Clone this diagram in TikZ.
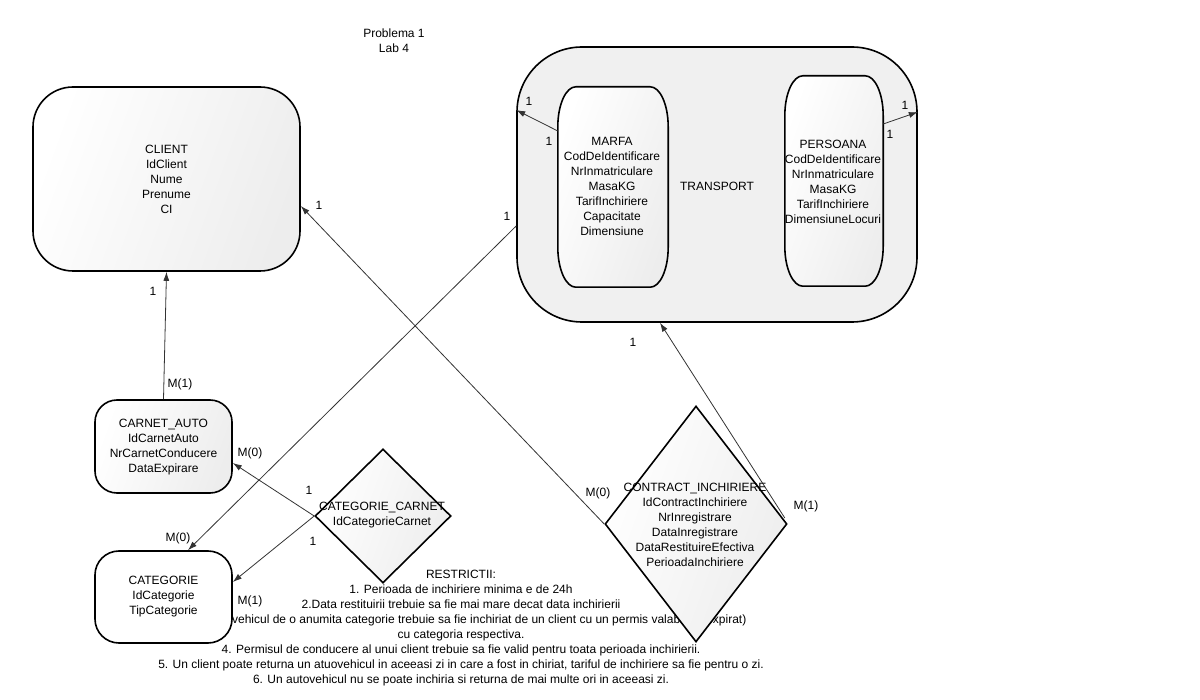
\documentclass[tikz,border=0pt]{standalone}
\usepackage{fontspec}
\setmainfont{Liberation Sans}
\usetikzlibrary{arrows.meta,shapes.geometric,calc}
\begin{document}
\begin{tikzpicture}[x=1pt,y=-1pt,
  font=\fontsize{12}{15}\selectfont,
  box/.style={draw=black,line width=1.6pt,rectangle,inner sep=0pt},
  gfill/.style={left color=white,right color=black!7,shading angle=70},
  flat/.style={fill=black!6},
  txt/.style={align=center,inner sep=0pt},
  lab/.style={inner sep=0pt},
  conn/.style={draw=black!80,line width=0.8pt,-{Latex[length=9pt,width=6pt]}}
]
\useasboundingbox (0,0) rectangle (1200,700);
\fill[white] (0,0) rectangle (1200,700);

% title
\node[txt] (title) at (394,40.5) {Problema 1\\Lab 4};

% restrictions (drawn first so shapes cover parts of it)
\node[txt] (restr) at (461,628.5) {RESTRICTII:\hspace{16pt}\\
1. Perioada de inchiriere minima e de 24h\\
2.Data restituirii trebuie sa fie mai mare decat data inchirierii\\
3. Un autovehicul de o anumita categorie trebuie sa fie inchiriat de un client cu un permis valabil (neexpirat)\\
cu categoria respectiva.\\
4. Permisul de conducere al unui client trebuie sa fie valid pentru toata perioada inchirierii.\\
5. Un client poate returna un atuovehicul in aceeasi zi in care a fost in chiriat, tariful de inchiriere sa fie pentru o zi.\\
6. Un autovehicul nu se poate inchiria si returna de mai multe ori in aceeasi zi.};

% shapes
\node[box,gfill,rounded corners=40pt,minimum width=267pt,minimum height=184pt] (client) at (166.5,179) {};
\node[box,flat,rounded corners=65pt,minimum width=400pt,minimum height=275pt] (transport) at (717,184.5) {};
\node[inner sep=0pt,minimum width=110pt,minimum height=200pt] (marfa) at (613,187) {};
\node[inner sep=0pt,minimum width=98pt,minimum height=210pt] (persoana) at (834,181) {};
\foreach \n in {marfa,persoana}{
  \path[draw=black,line width=1.6pt,gfill]
    ($(\n.north west)+(18,0)$) -- ($(\n.north east)+(-18,0)$)
    arc[start angle=-90,end angle=0,x radius=18,y radius=40]
    -- ($(\n.south east)+(0,-40)$)
    arc[start angle=0,end angle=90,x radius=18,y radius=40]
    -- ($(\n.south west)+(18,0)$)
    arc[start angle=90,end angle=180,x radius=18,y radius=40]
    -- ($(\n.north west)+(0,40)$)
    arc[start angle=180,end angle=270,x radius=18,y radius=40] -- cycle;
}
\node[box,gfill,rounded corners=22pt,minimum width=137pt,minimum height=93pt] (carnet) at (163.5,446.5) {};
\node[box,fill=white,rounded corners=24pt,minimum width=137pt,minimum height=92pt] (cat) at (163.5,597) {};
\node[diamond,draw=black,line width=1.6pt,gfill,inner sep=0pt,minimum width=136pt,minimum height=134pt] (ccarnet) at (383,516) {};
\node[diamond,draw=black,line width=1.6pt,gfill,inner sep=0pt,minimum width=182pt,minimum height=236pt] (contract) at (696,524) {};

% connectors
\draw[conn] (carnet.north) -- (client.south);
\draw[conn] (contract.west) -- ($(client.east)+(0,27)$);
\draw[conn] ($(transport.west)+(0,41.5)$) -- ($(cat.north)+(24.5,0)$);
\draw[conn] ($(contract.east)+(-3,-6)$) -- ($(transport.south)+(-57,0)$);
\draw[conn] (ccarnet.west) -- ($(carnet.east)+(0,16.5)$);
\draw[conn] (ccarnet.west) -- ($(cat.east)+(0,-15)$);
\draw[conn] ($(marfa.west)+(0,-56)$) -- ($(transport.west)+(0,-74.5)$);
\draw[conn] ($(persoana.east)+(0,-57)$) -- ($(transport.east)+(0,-72.5)$);

% texts of shapes
\node[txt] (clienttxt) at (166.5,179) {CLIENT\\IdClient\\Nume\\Prenume\\CI};
\node[txt] (transporttxt) at (717,186) {TRANSPORT};
\node[txt] (marfatxt) at (612,186) {MARFA\\CodDeIdentificare\\NrInmatriculare\\MasaKG\\TarifInchiriere\\Capacitate\\Dimensiune};
\node[txt] (persoanatxt) at (833,181.5) {PERSOANA\\CodDeIdentificare\\NrInmatriculare\\MasaKG\\TarifInchiriere\\DimensiuneLocuri};
\node[txt] (carnettxt) at (163.5,447) {CARNET\_AUTO\\IdCarnetAuto\\NrCarnetConducere\\DataExpirare};
\node[txt] (cattxt) at (163.5,597) {CATEGORIE\\IdCategorie\\TipCategorie};
\node[txt] (ccarnettxt) at (382,515.5) {CATEGORIE\_CARNET\\IdCategorieCarnet};
\node[txt] (contracttxt) at (695,524.5) {CONTRACT\_INCHIRIERE\\IdContractInchiriere\\NrInregistrare\\DataInregistrare\\DataRestituireEfectiva\\PerioadaInchiriere};

% cardinality labels
\node[lab] (l1) at (153,291) {1};
\node[lab] (l2) at (180,384) {M(1)};
\node[lab] (l3) at (319,205) {1};
\node[lab] (l4) at (598,493) {M(0)};
\node[lab] (l5) at (507,216) {1};
\node[lab] (l6) at (178,538) {M(0)};
\node[lab] (l7) at (633,342) {1};
\node[lab] (l8) at (806,506) {M(1)};
\node[lab] (l9) at (250,453) {M(0)};
\node[lab] (l10) at (309,490) {1};
\node[lab] (l11) at (313,541) {1};
\node[lab] (l12) at (250,601) {M(1)};
\node[lab] (l13) at (529,101) {1};
\node[lab] (l14) at (549,141) {1};
\node[lab] (l15) at (905,105) {1};
\node[lab] (l16) at (890,134) {1};
\end{tikzpicture}
\end{document}
